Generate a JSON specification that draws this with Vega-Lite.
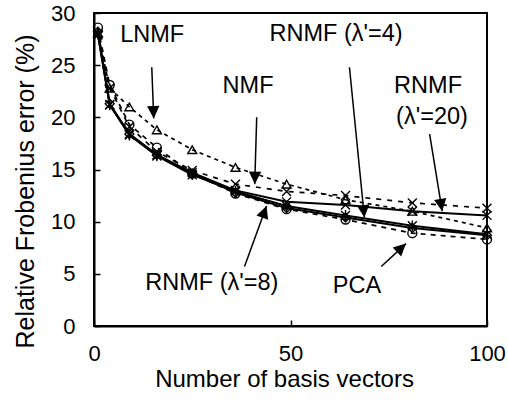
{
  "$schema": "https://vega.github.io/schema/vega-lite/v6.json",
  "width": 393,
  "height": 313,
  "autosize": "none",
  "padding": {"left": 94, "top": 13, "right": 21, "bottom": 76},
  "config": {
    "font": "Liberation Sans",
    "view": {"stroke": "black", "strokeWidth": 2},
    "axis": {"grid": false, "domainColor": "black", "domainWidth": 2, "tickColor": "black", "tickWidth": 1.5, "labelColor": "black", "titleColor": "black", "labelFont": "Liberation Sans", "titleFont": "Liberation Sans", "titleFontWeight": "normal", "labelFlush": false}
  },
  "datasets": {
    "curves": [
      {"n": 1, "e": 28.6, "m": "PCA"}, {"n": 4, "e": 23.1, "m": "PCA"}, {"n": 9, "e": 19.3, "m": "PCA"}, {"n": 16, "e": 17.1, "m": "PCA"}, {"n": 25, "e": 14.6, "m": "PCA"}, {"n": 36, "e": 12.7, "m": "PCA"}, {"n": 49, "e": 11.2, "m": "PCA"}, {"n": 64, "e": 10.2, "m": "PCA"}, {"n": 81, "e": 8.9, "m": "PCA"}, {"n": 100, "e": 8.3, "m": "PCA"},
      {"n": 1, "e": 28.0, "m": "NMF"}, {"n": 4, "e": 22.8, "m": "NMF"}, {"n": 9, "e": 19.1, "m": "NMF"}, {"n": 16, "e": 16.7, "m": "NMF"}, {"n": 25, "e": 14.9, "m": "NMF"}, {"n": 36, "e": 13.6, "m": "NMF"}, {"n": 49, "e": 12.9, "m": "NMF"}, {"n": 64, "e": 12.5, "m": "NMF"}, {"n": 81, "e": 11.8, "m": "NMF"}, {"n": 100, "e": 11.3, "m": "NMF"},
      {"n": 1, "e": 28.1, "m": "LNMF"}, {"n": 4, "e": 22.8, "m": "LNMF"}, {"n": 9, "e": 21.0, "m": "LNMF"}, {"n": 16, "e": 18.8, "m": "LNMF"}, {"n": 25, "e": 16.9, "m": "LNMF"}, {"n": 36, "e": 15.2, "m": "LNMF"}, {"n": 49, "e": 13.6, "m": "LNMF"}, {"n": 64, "e": 12.1, "m": "LNMF"}, {"n": 81, "e": 11.0, "m": "LNMF"}, {"n": 100, "e": 9.4, "m": "LNMF"},
      {"n": 1, "e": 28.2, "m": "RNMF4"}, {"n": 4, "e": 21.3, "m": "RNMF4"}, {"n": 9, "e": 18.4, "m": "RNMF4"}, {"n": 16, "e": 16.4, "m": "RNMF4"}, {"n": 25, "e": 14.6, "m": "RNMF4"}, {"n": 36, "e": 12.8, "m": "RNMF4"}, {"n": 49, "e": 11.3, "m": "RNMF4"}, {"n": 64, "e": 10.4, "m": "RNMF4"}, {"n": 81, "e": 9.4, "m": "RNMF4"}, {"n": 100, "e": 8.7, "m": "RNMF4"},
      {"n": 1, "e": 28.0, "m": "RNMF8"}, {"n": 4, "e": 21.2, "m": "RNMF8"}, {"n": 9, "e": 18.3, "m": "RNMF8"}, {"n": 16, "e": 16.3, "m": "RNMF8"}, {"n": 25, "e": 14.5, "m": "RNMF8"}, {"n": 36, "e": 12.9, "m": "RNMF8"}, {"n": 49, "e": 11.5, "m": "RNMF8"}, {"n": 64, "e": 10.6, "m": "RNMF8"}, {"n": 81, "e": 9.6, "m": "RNMF8"}, {"n": 100, "e": 8.8, "m": "RNMF8"},
      {"n": 1, "e": 27.9, "m": "RNMF20"}, {"n": 4, "e": 21.2, "m": "RNMF20"}, {"n": 9, "e": 18.4, "m": "RNMF20"}, {"n": 16, "e": 16.4, "m": "RNMF20"}, {"n": 25, "e": 14.7, "m": "RNMF20"}, {"n": 36, "e": 13.0, "m": "RNMF20"}, {"n": 49, "e": 11.9, "m": "RNMF20"}, {"n": 64, "e": 11.6, "m": "RNMF20"}, {"n": 81, "e": 11.0, "m": "RNMF20"}, {"n": 100, "e": 10.6, "m": "RNMF20"}
    ],
    "labels": [
      {"x": 14.8, "y": 27.9, "t": "LNMF"},
      {"x": 39.2, "y": 23.0, "t": "NMF"},
      {"x": 61.6, "y": 28.0, "t": "RNMF (λ'=4)"},
      {"x": 85.0, "y": 23.0, "t": "RNMF"},
      {"x": 86.0, "y": 20.0, "t": "(λ'=20)"},
      {"x": 30.0, "y": 4.1, "t": "RNMF (λ'=8)"},
      {"x": 66.9, "y": 3.8, "t": "PCA"}
    ],
    "arrows": [
      {"x": 14.7, "y": 24.8, "x2": 15.2, "y2": 19.9},
      {"x": 41.4, "y": 20.0, "x2": 40.9, "y2": 13.6},
      {"x": 65.0, "y": 24.8, "x2": 68.8, "y2": 10.4},
      {"x": 85.4, "y": 18.4, "x2": 88.6, "y2": 11.0},
      {"x": 38.3, "y": 5.7, "x2": 43.9, "y2": 11.5},
      {"x": 73.1, "y": 5.7, "x2": 79.4, "y2": 7.9}
    ]
  },
  "layer": [
    {
      "data": {"name": "curves"},
      "transform": [{"filter": "indexof(['PCA','NMF','LNMF'], datum.m) >= 0"}],
      "mark": {"type": "line", "color": "black", "strokeWidth": 1.7},
      "encoding": {
        "x": {"field": "n", "type": "quantitative", "scale": {"domain": [0, 100], "nice": false},
              "axis": {"values": [0, 50, 100], "tickSize": -6, "labelFontSize": 22, "labelPadding": 23, "title": "Number of basis vectors", "titleFontSize": 24, "titleBaseline": "alphabetic", "titleX": 190, "titleY": 60}},
        "y": {"field": "e", "type": "quantitative", "scale": {"domain": [0, 30], "nice": false},
              "axis": {"values": [0, 5, 10, 15, 20, 25, 30], "tickSize": -6, "labelFontSize": 22, "labelPadding": 25, "title": "Relative Frobenius error (%)", "titleFontSize": 25, "titleBaseline": "alphabetic", "titleX": -61, "titleY": 178}},
        "detail": {"field": "m", "type": "nominal"},
        "strokeDash": {"field": "m", "type": "nominal", "legend": null,
                       "scale": {"domain": ["PCA", "NMF", "LNMF"], "range": [[5, 5], [5, 6], [4, 4]]}}
      }
    },
    {
      "data": {"name": "curves"},
      "transform": [{"filter": "indexof(['RNMF4','RNMF8','RNMF20'], datum.m) >= 0"}],
      "mark": {"type": "line", "color": "black", "strokeWidth": 2},
      "encoding": {
        "x": {"field": "n", "type": "quantitative"},
        "y": {"field": "e", "type": "quantitative"},
        "detail": {"field": "m", "type": "nominal"}
      }
    },
    {
      "data": {"name": "curves"},
      "mark": {"type": "point", "filled": false, "stroke": "black", "strokeWidth": 1.4, "size": 80, "opacity": 1},
      "encoding": {
        "x": {"field": "n", "type": "quantitative"},
        "y": {"field": "e", "type": "quantitative"},
        "shape": {"field": "m", "type": "nominal", "legend": null,
                  "scale": {"domain": ["PCA", "NMF", "LNMF", "RNMF4", "RNMF8", "RNMF20"],
                            "range": ["circle", "M-1,-1L1,1M-1,1L1,-1", "triangle-up", "diamond", "M-1,-1L1,1M-1,1L1,-1M0,-1.2L0,1.2", "M-1,-1L1,1M-1,1L1,-1"]}}
      }
    },
    {
      "data": {"name": "arrows"},
      "mark": {"type": "rule", "color": "black", "strokeWidth": 1.5},
      "encoding": {
        "x": {"field": "x", "type": "quantitative"},
        "y": {"field": "y", "type": "quantitative"},
        "x2": {"field": "x2"},
        "y2": {"field": "y2"}
      }
    },
    {
      "data": {"name": "arrows"},
      "transform": [{"calculate": "atan2(-(datum.x2 - datum.x) * 3.93, -(datum.y2 - datum.y) * 10.433) * 180 / PI", "as": "ang"}],
      "mark": {"type": "point", "shape": "M0,0L-0.5,-1L0.5,-1Z", "filled": true, "color": "black", "size": 620, "opacity": 1},
      "encoding": {
        "x": {"field": "x2", "type": "quantitative"},
        "y": {"field": "y2", "type": "quantitative"},
        "angle": {"field": "ang", "type": "quantitative", "scale": null}
      }
    },
    {
      "data": {"name": "labels"},
      "mark": {"type": "text", "font": "Liberation Sans", "fontSize": 23.5, "color": "black", "align": "center", "baseline": "middle"},
      "encoding": {
        "x": {"field": "x", "type": "quantitative"},
        "y": {"field": "y", "type": "quantitative"},
        "text": {"field": "t"}
      }
    }
  ]
}
